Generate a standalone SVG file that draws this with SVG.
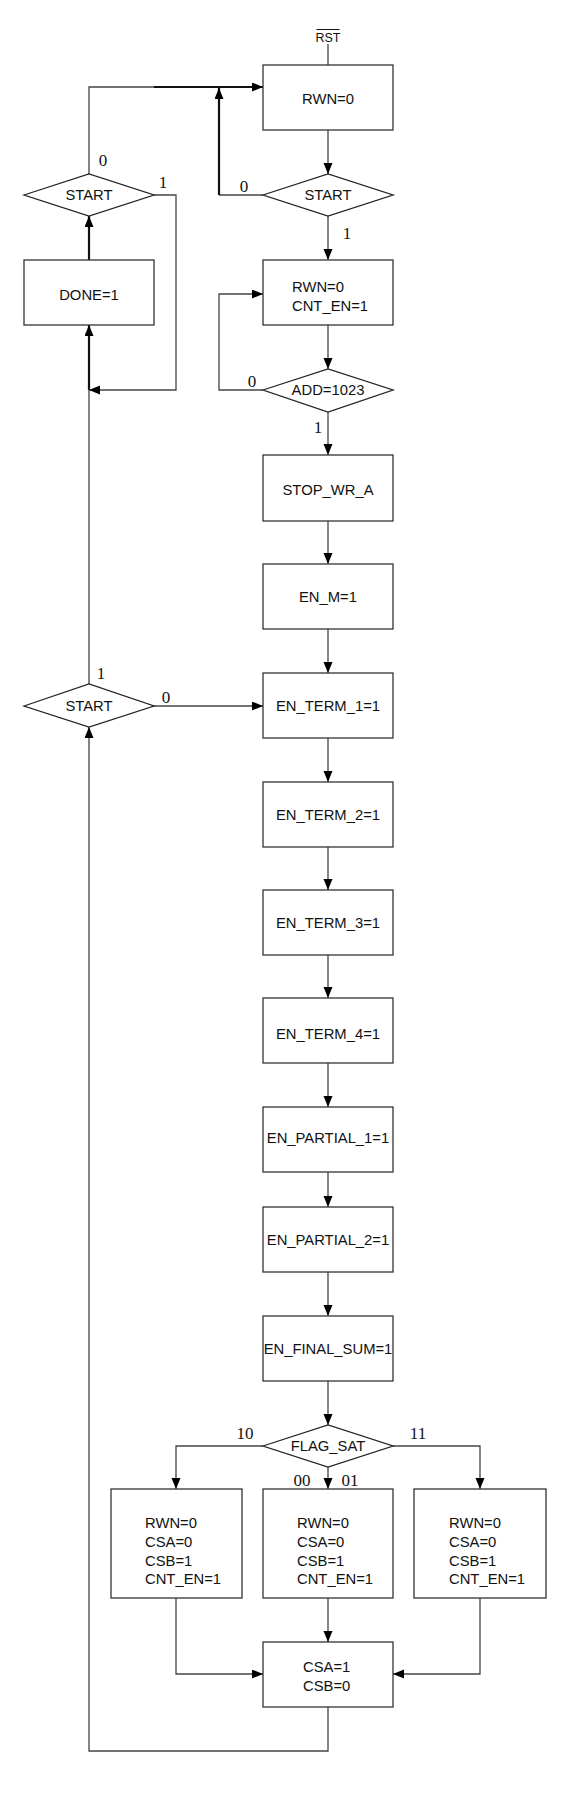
<svg xmlns="http://www.w3.org/2000/svg" width="585" height="1797" viewBox="0 0 585 1797">
<style>
.box{fill:#fff;stroke:#333;stroke-width:1.3}
.dia{fill:#fff;stroke:#222;stroke-width:1.3}
.t{font-family:"Liberation Sans",Arial,sans-serif;font-size:14.8px;fill:#111}
.c{text-anchor:middle}
.n{font-family:"Liberation Serif","Times New Roman",serif;font-size:17px;fill:#111;text-anchor:middle}
.ln{fill:none;stroke:#444;stroke-width:1.3}
.thick{fill:none;stroke:#111;stroke-width:2.2}
</style>
<defs>
<marker id="ah" markerUnits="userSpaceOnUse" markerWidth="12" markerHeight="10" refX="11" refY="4.5" orient="auto">
<path d="M0,0 L11,4.5 L0,9 z" fill="#000"/>
</marker>
</defs>
<rect width="585" height="1797" fill="#fff"/>

<g id="connectors">
<path class="ln" d="M328,44 V65"/>
<path class="ln" d="M328,130 V174" marker-end="url(#ah)"/>
<path class="ln" d="M263,195 H219"/>
<path class="thick" d="M219,195 V88" marker-end="url(#ah)"/>
<path class="ln" d="M89,174 V87 H154"/>
<path class="thick" d="M154,87 H263" marker-end="url(#ah)"/>
<path class="ln" d="M328,216 V260" marker-end="url(#ah)"/>
<path class="ln" d="M328,325 V369" marker-end="url(#ah)"/>
<path class="ln" d="M263,390 H219 V294 H263" marker-end="url(#ah)"/>
<path class="ln" d="M328,412 V455" marker-end="url(#ah)"/>
<path class="ln" d="M328,521 V564" marker-end="url(#ah)"/>
<path class="ln" d="M328,629 V673" marker-end="url(#ah)"/>
<path class="ln" d="M328,738 V782" marker-end="url(#ah)"/>
<path class="ln" d="M328,847 V890" marker-end="url(#ah)"/>
<path class="ln" d="M328,955 V998" marker-end="url(#ah)"/>
<path class="ln" d="M328,1063 V1107" marker-end="url(#ah)"/>
<path class="ln" d="M328,1172 V1207" marker-end="url(#ah)"/>
<path class="ln" d="M328,1272 V1316" marker-end="url(#ah)"/>
<path class="ln" d="M328,1381 V1425" marker-end="url(#ah)"/>
<path class="ln" d="M263,1446 H176 V1489" marker-end="url(#ah)"/>
<path class="ln" d="M393,1446 H480 V1489" marker-end="url(#ah)"/>
<path class="ln" d="M328,1467 V1489" marker-end="url(#ah)"/>
<path class="ln" d="M176,1598 V1674 H263" marker-end="url(#ah)"/>
<path class="ln" d="M480,1598 V1674 H393" marker-end="url(#ah)"/>
<path class="ln" d="M328,1598 V1642" marker-end="url(#ah)"/>
<path class="ln" d="M328,1707 V1751 H89 V727" marker-end="url(#ah)"/>
<path class="ln" d="M154,706 H263" marker-end="url(#ah)"/>
<path class="ln" d="M89,684 V390"/>
<path class="thick" d="M89,390 V325" marker-end="url(#ah)"/>
<path class="ln" d="M154,195 H176 V390 H89" marker-end="url(#ah)"/>
<path class="thick" d="M89,260 V216" marker-end="url(#ah)"/>
</g>

<g id="rst">
<text class="t c" x="328" y="41.5" style="font-size:12.5px">RST</text>
<path d="M316.5,29.5 H339.5" stroke="#111" stroke-width="1"/>
</g>

<g id="n_rwn0">
<rect class="box" x="263" y="65" width="130" height="65"/>
<text class="t c" x="328" y="104">RWN=0</text>
</g>
<g id="d_start1">
<polygon class="dia" points="263,195 328,174 393,195 328,216"/>
<text class="t c" x="328" y="200">START</text>
</g>
<g id="n_rwn_cnt">
<rect class="box" x="263" y="260" width="130" height="65"/>
<text class="t" x="292" y="292">RWN=0</text>
<text class="t" x="292" y="311">CNT_EN=1</text>
</g>
<g id="d_add">
<polygon class="dia" points="263,390 328,369 393,390 328,412"/>
<text class="t c" x="328" y="395">ADD=1023</text>
</g>
<g id="n_stop"><rect class="box" x="263" y="455" width="130" height="66"/><text class="t c" x="328" y="495">STOP_WR_A</text></g>
<g id="n_enm"><rect class="box" x="263" y="564" width="130" height="65"/><text class="t c" x="328" y="602">EN_M=1</text></g>
<g id="n_t1"><rect class="box" x="263" y="673" width="130" height="65"/><text class="t c" x="328" y="711">EN_TERM_1=1</text></g>
<g id="n_t2"><rect class="box" x="263" y="782" width="130" height="65"/><text class="t c" x="328" y="820">EN_TERM_2=1</text></g>
<g id="n_t3"><rect class="box" x="263" y="890" width="130" height="65"/><text class="t c" x="328" y="928">EN_TERM_3=1</text></g>
<g id="n_t4"><rect class="box" x="263" y="998" width="130" height="65"/><text class="t c" x="328" y="1039">EN_TERM_4=1</text></g>
<g id="n_p1"><rect class="box" x="263" y="1107" width="130" height="65"/><text class="t c" x="328" y="1143">EN_PARTIAL_1=1</text></g>
<g id="n_p2"><rect class="box" x="263" y="1207" width="130" height="65"/><text class="t c" x="328" y="1245">EN_PARTIAL_2=1</text></g>
<g id="n_fs"><rect class="box" x="263" y="1316" width="130" height="65"/><text class="t c" x="328" y="1354">EN_FINAL_SUM=1</text></g>
<g id="d_flag">
<polygon class="dia" points="263,1446 328,1425 393,1446 328,1467"/>
<text class="t c" x="328" y="1451">FLAG_SAT</text>
</g>
<g id="n_b10">
<rect class="box" x="111" y="1489" width="131" height="109"/>
<text class="t" x="145" y="1528">RWN=0</text><text class="t" x="145" y="1547">CSA=0</text><text class="t" x="145" y="1566">CSB=1</text><text class="t" x="145" y="1584">CNT_EN=1</text>
</g>
<g id="n_b00">
<rect class="box" x="263" y="1489" width="130" height="109"/>
<text class="t" x="297" y="1528">RWN=0</text><text class="t" x="297" y="1547">CSA=0</text><text class="t" x="297" y="1566">CSB=1</text><text class="t" x="297" y="1584">CNT_EN=1</text>
</g>
<g id="n_b11">
<rect class="box" x="414" y="1489" width="132" height="109"/>
<text class="t" x="449" y="1528">RWN=0</text><text class="t" x="449" y="1547">CSA=0</text><text class="t" x="449" y="1566">CSB=1</text><text class="t" x="449" y="1584">CNT_EN=1</text>
</g>
<g id="n_csa">
<rect class="box" x="263" y="1642" width="130" height="65"/>
<text class="t" x="303" y="1672">CSA=1</text><text class="t" x="303" y="1691">CSB=0</text>
</g>
<g id="d_start_top">
<polygon class="dia" points="24,195 89,174 154,195 89,216"/>
<text class="t c" x="89" y="200">START</text>
</g>
<g id="n_done">
<rect class="box" x="24" y="260" width="130" height="65"/>
<text class="t c" x="89" y="300">DONE=1</text>
</g>
<g id="d_start_bot">
<polygon class="dia" points="24,706 89,684 154,706 89,727"/>
<text class="t c" x="89" y="711">START</text>
</g>

<g id="labels">
<text class="n" x="103" y="166">0</text>
<text class="n" x="163" y="188">1</text>
<text class="n" x="244" y="192">0</text>
<text class="n" x="347" y="239">1</text>
<text class="n" x="252" y="387">0</text>
<text class="n" x="318" y="433">1</text>
<text class="n" x="101" y="679">1</text>
<text class="n" x="166" y="703">0</text>
<text class="n" x="245" y="1439">10</text>
<text class="n" x="418" y="1439">11</text>
<text class="n" x="302" y="1486">00</text>
<text class="n" x="350" y="1486">01</text>
</g>
</svg>
